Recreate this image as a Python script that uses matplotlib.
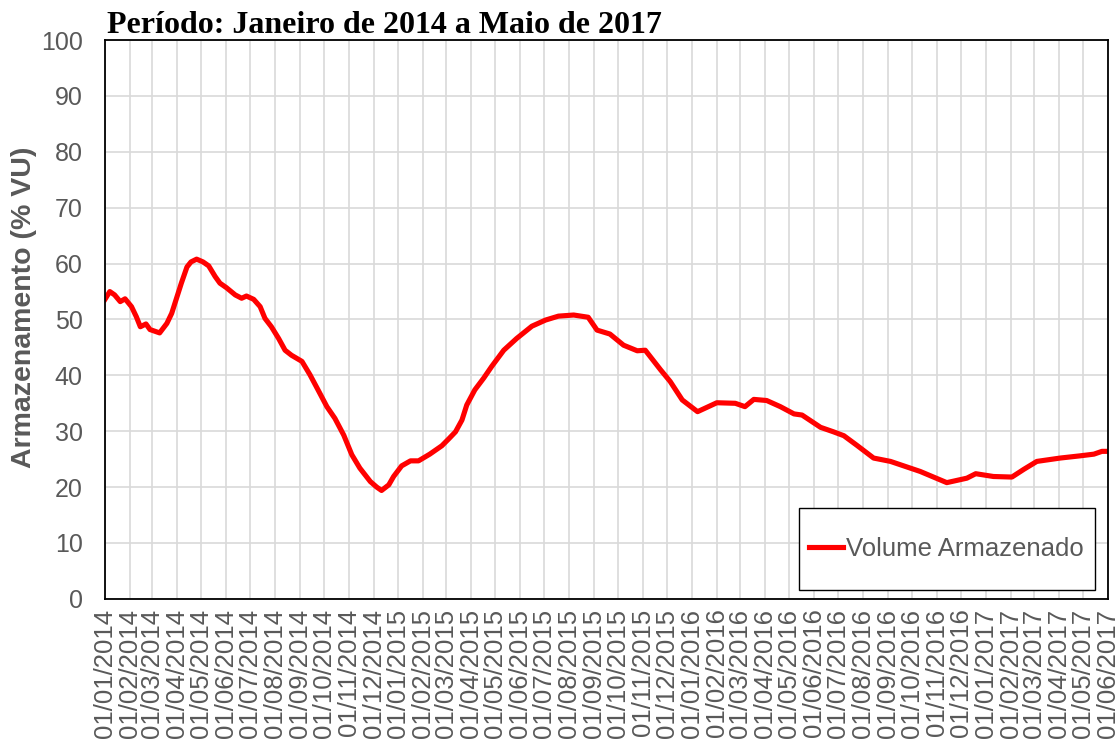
import pandas as pd
import matplotlib.pyplot as plt
import matplotlib.dates as mdates
from matplotlib.patches import Rectangle

# volume armazenado (% VU)
datas = ['2014-01-01', '2014-01-07', '2014-01-13', '2014-01-20', '2014-01-26', '2014-02-03',
         '2014-02-09', '2014-02-14', '2014-02-21', '2014-02-26', '2014-03-10', '2014-03-19',
         '2014-03-25', '2014-03-31', '2014-04-06', '2014-04-13', '2014-04-18', '2014-04-25',
         '2014-05-03', '2014-05-10', '2014-05-18', '2014-05-24', '2014-06-01', '2014-06-12',
         '2014-06-20', '2014-06-26', '2014-07-05', '2014-07-13', '2014-07-19', '2014-07-27',
         '2014-08-05', '2014-08-13', '2014-08-21', '2014-09-03', '2014-09-13', '2014-09-23',
         '2014-10-04', '2014-10-14', '2014-10-25', '2014-11-04', '2014-11-14', '2014-11-27',
         '2014-12-05', '2014-12-11', '2014-12-20', '2014-12-26', '2015-01-05', '2015-01-16',
         '2015-01-26', '2015-02-09', '2015-02-24', '2015-03-05', '2015-03-13', '2015-03-21',
         '2015-03-27', '2015-04-06', '2015-04-17', '2015-04-27', '2015-05-12', '2015-05-28',
         '2015-06-16', '2015-07-03', '2015-07-19', '2015-08-07', '2015-08-25', '2015-09-05',
         '2015-09-21', '2015-10-08', '2015-10-25', '2015-11-04', '2015-11-23', '2015-12-05',
         '2015-12-20', '2016-01-08', '2016-02-01', '2016-02-24', '2016-03-07', '2016-03-18',
         '2016-04-03', '2016-04-20', '2016-05-07', '2016-05-17', '2016-06-09', '2016-06-25',
         '2016-07-08', '2016-07-24', '2016-08-14', '2016-09-04', '2016-10-11', '2016-11-13',
         '2016-12-08', '2016-12-19', '2017-01-10', '2017-02-02', '2017-02-17', '2017-03-05',
         '2017-04-03', '2017-04-28', '2017-05-15', '2017-05-25', '2017-06-01']
volume = [53.6, 55.0, 54.4, 53.2, 53.7, 52.3,
          50.5, 48.7, 49.2, 48.2, 47.6, 49.3,
          51.1, 53.8, 56.5, 59.4, 60.3, 60.8,
          60.3, 59.6, 57.7, 56.5, 55.7, 54.4,
          53.8, 54.2, 53.6, 52.3, 50.2, 48.7,
          46.6, 44.5, 43.6, 42.5, 40.1, 37.4,
          34.4, 32.3, 29.3, 25.8, 23.4, 21.0,
          20.0, 19.4, 20.4, 21.9, 23.8, 24.7,
          24.7, 25.9, 27.4, 28.7, 29.9, 32.0,
          34.7, 37.4, 39.5, 41.6, 44.5, 46.6,
          48.8, 49.9, 50.6, 50.8, 50.4, 48.1,
          47.4, 45.4, 44.4, 44.5, 41.0, 38.9,
          35.6, 33.5, 35.1, 35.0, 34.4, 35.7,
          35.5, 34.4, 33.1, 32.9, 30.7, 29.9,
          29.2, 27.5, 25.2, 24.6, 22.8, 20.8,
          21.6, 22.4, 21.9, 21.8, 23.2, 24.6,
          25.2, 25.6, 25.9, 26.4, 26.4]

x = pd.to_datetime(datas)
meses = pd.date_range('2014-01-01', '2017-06-01', freq='MS')

cinza = '#595959'
fig = plt.figure(figsize=(11.19, 7.43), dpi=100)
ax = fig.add_axes([0.0938, 0.194, 0.896, 0.752])

ax.plot(x, volume, color='#ff0000', lw=3.7, label='Volume Armazenado')

ax.set_xlim(meses[0], meses[-1])
ax.set_ylim(0, 100)
ax.set_yticks(range(0, 101, 10))
ax.set_xticks(meses)
ax.xaxis.set_major_formatter(mdates.DateFormatter('%d/%m/%Y'))
ax.tick_params(axis='x', labelrotation=90, labelsize=18.5, colors=cinza, length=0, pad=7)
ax.tick_params(axis='y', labelsize=18, colors=cinza, length=0, pad=16)
for lab in ax.get_xticklabels() + ax.get_yticklabels():
    lab.set_fontfamily('Liberation Sans')

ax.grid(True, color='#d9d9d9', lw=1.2)
ax.set_axisbelow(True)
for s in ax.spines.values():
    s.set_color('black')
    s.set_linewidth(1.3)

ax.set_ylabel('Armazenamento (% VU)', fontsize=20.5, fontweight='bold', color=cinza,
              family='Liberation Sans')
ax.yaxis.set_label_coords(-0.068, 0.522)
ax.set_title('Período: Janeiro de 2014 a Maio de 2017', loc='left', fontsize=23,
             fontweight='bold', family='Liberation Serif', pad=3, x=0.002)

# caixa da legenda
ax.add_patch(Rectangle((0.692, 0.0161), 0.295, 0.1467, transform=ax.transAxes,
                       facecolor='white', edgecolor='black', lw=1.0, zorder=4))
leg = ax.legend(loc='center', bbox_to_anchor=(0.8395, 0.0895), frameon=False,
                handlelength=1.3, handletextpad=0.15,
                prop={'family': 'Liberation Sans', 'size': 18.5})
leg.set_zorder(5)
for t in leg.get_texts():
    t.set_color(cinza)

plt.savefig('out.png', dpi=100)
